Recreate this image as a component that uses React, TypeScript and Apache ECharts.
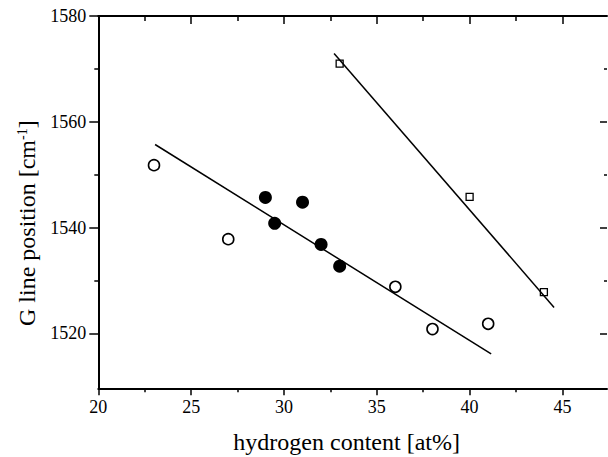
import React, { useEffect, useRef } from 'react';
import * as echarts from 'echarts';

// Open circles
const openX = [23, 27, 36, 38, 41];
const openY = [1551.8, 1537.8, 1528.8, 1520.8, 1521.8];
// Filled circles
const filledX = [29, 29.5, 31, 32, 33];
const filledY = [1545.7, 1540.8, 1544.8, 1536.8, 1532.7];
// Open squares
const squareX = [33, 40, 44];
const squareY = [1571, 1545.8, 1527.8];
// Linear fits
const fit1X = [23.06, 41.16];
const fit1Y = [1555.7, 1516.1];
const fit2X = [32.7, 44.55];
const fit2Y = [1572.9, 1524.9];
// Ticks
const xMajor = [20, 25, 30, 35, 40, 45];
const xMinor = [22.5, 27.5, 32.5, 37.5, 42.5];
const yMajor = [1520, 1540, 1560, 1580];
const yMinor = [1530, 1550, 1570];

const X_MIN = 20;
const X_MAX = 47.4;
const Y_MIN = 1509.6;
const Y_MAX = 1580;

const SERIF = '"Liberation Serif", "Times New Roman", serif';

const zip = (xs: number[], ys: number[]) => xs.map((x, i) => [x, ys[i]]);

export default function App() {
  const ref = useRef<HTMLDivElement>(null);
  useEffect(() => {
    if (!ref.current) return;
    const chart = echarts.init(ref.current, undefined, { renderer: 'svg' });
    const line = { color: '#000', width: 2 };
    const tick = { color: '#000', width: 1.5 };
    const xBase = { type: 'value', min: X_MIN, max: X_MAX, splitLine: { show: false } };
    const yBase = { type: 'value', min: Y_MIN, max: Y_MAX, splitLine: { show: false } };
    const fmt = (v: number) => String(v);
    chart.setOption({
      animation: false,
      backgroundColor: '#fff',
      grid: { left: 98.3, right: 1, top: 16, bottom: 68.7, containLabel: false, outerBoundsMode: 'none' },
      xAxis: [
        {
          ...xBase,
          position: 'bottom',
          axisLine: { show: true, onZero: false, lineStyle: line },
          axisTick: { show: true, inside: false, length: 7, customValues: xMajor, lineStyle: tick },
          axisLabel: { show: true, customValues: xMajor, formatter: fmt, margin: 10, color: '#000', fontFamily: SERIF, fontSize: 18 },
          name: 'hydrogen content [at%]',
          nameLocation: 'middle',
          nameGap: 42,
          nameTextStyle: { color: '#000', fontFamily: SERIF, fontSize: 24, padding: [0, 12, 0, 0] },
        },
        {
          ...xBase,
          position: 'bottom',
          axisLine: { show: false, onZero: false },
          axisTick: { show: true, inside: false, length: 4, customValues: xMinor, lineStyle: tick },
          axisLabel: { show: false },
        },
        {
          ...xBase,
          position: 'top',
          axisLine: { show: true, onZero: false, lineStyle: line },
          axisTick: { show: true, inside: true, length: 8, customValues: xMajor, lineStyle: tick },
          axisLabel: { show: false },
        },
        {
          ...xBase,
          position: 'top',
          axisLine: { show: false, onZero: false },
          axisTick: { show: true, inside: true, length: 5, customValues: xMinor, lineStyle: tick },
          axisLabel: { show: false },
        },
      ],
      yAxis: [
        {
          ...yBase,
          position: 'left',
          axisLine: { show: true, onZero: false, lineStyle: line },
          axisTick: { show: true, inside: false, length: 9, customValues: yMajor, lineStyle: tick },
          axisLabel: { show: true, customValues: yMajor, formatter: fmt, margin: 12, color: '#000', fontFamily: SERIF, fontSize: 18 },
          name: 'G line position [cm{sup|-1}]',
          nameLocation: 'middle',
          nameGap: 57,
          nameTextStyle: {
            color: '#000',
            fontFamily: SERIF,
            fontSize: 24,
            padding: [0, 42, 0, 0],
            rich: {
              sup: { fontFamily: SERIF, fontSize: 14, color: '#000', verticalAlign: 'top' },
            },
          },
        },
        {
          ...yBase,
          position: 'left',
          axisLine: { show: false, onZero: false },
          axisTick: { show: true, inside: false, length: 4, customValues: yMinor, lineStyle: tick },
          axisLabel: { show: false },
        },
        {
          ...yBase,
          position: 'right',
          axisLine: { show: false, onZero: false },
          axisTick: { show: true, inside: true, length: 7, customValues: yMajor, lineStyle: tick },
          axisLabel: { show: false },
        },
        {
          ...yBase,
          position: 'right',
          axisLine: { show: false, onZero: false },
          axisTick: { show: true, inside: true, length: 3, customValues: yMinor, lineStyle: tick },
          axisLabel: { show: false },
        },
      ],
      series: [
        {
          type: 'line',
          data: zip(fit1X, fit1Y),
          symbol: 'none',
          lineStyle: { color: '#000', width: 1.5 },
          z: 2,
        },
        {
          type: 'line',
          data: zip(fit2X, fit2Y),
          symbol: 'none',
          lineStyle: { color: '#000', width: 1.5 },
          z: 2,
        },
        {
          type: 'scatter',
          data: zip(squareX, squareY),
          symbol: 'rect',
          symbolSize: 7,
          itemStyle: { color: 'rgba(255,255,255,0)', borderColor: '#000', borderWidth: 1.3, opacity: 1 },
          z: 1,
        },
        {
          type: 'scatter',
          data: zip(openX, openY),
          symbol: 'circle',
          symbolSize: 11,
          itemStyle: { color: '#fff', borderColor: '#000', borderWidth: 1.6, opacity: 1 },
          z: 3,
        },
        {
          type: 'scatter',
          data: zip(filledX, filledY),
          symbol: 'circle',
          symbolSize: 13,
          itemStyle: { color: '#000', borderColor: '#000', borderWidth: 0, opacity: 1 },
          z: 3,
        },
      ],
    });
    return () => chart.dispose();
  }, []);
  return (
    <div
      ref={ref}
      style={{ position: 'absolute', left: 0, top: 0, width: 608, height: 457, background: '#fff' }}
    />
  );
}
